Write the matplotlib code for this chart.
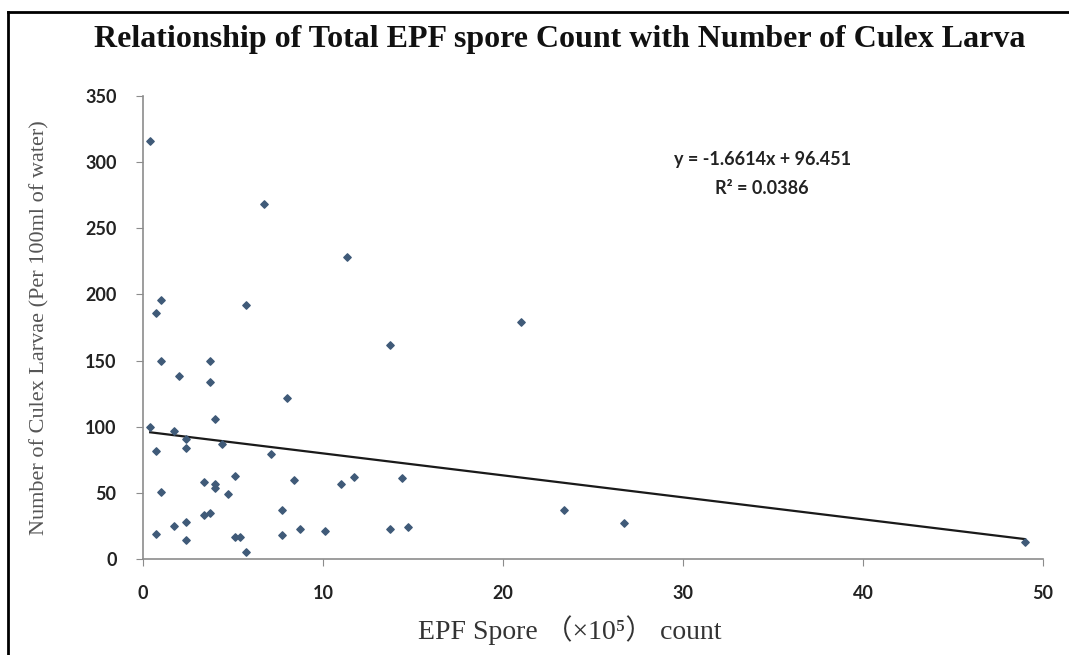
import matplotlib
matplotlib.use('Agg')
import matplotlib.pyplot as plt
from matplotlib.lines import Line2D

# EPF spore count (x10^5) and larvae per 100ml
spore_count = [0.4, 6.7, 11.35, 1.0, 0.7, 5.7, 13.7, 1.0, 3.7, 2.0,
               3.7, 8.0, 4.0, 0.4, 1.7, 2.4, 2.4, 0.7, 4.4, 7.1,
               5.1, 8.4, 11.7, 11.0, 14.4, 3.4, 4.0, 4.0, 4.7, 1.0,
               7.7, 3.4, 3.7, 2.4, 1.7, 0.7, 2.4, 5.1, 5.4, 5.7,
               7.7, 8.7, 10.1, 13.7, 14.7, 21.0, 23.4, 26.7, 49.0]
larvae = [316, 268, 228, 196, 186, 192, 162, 150, 150, 138,
          134, 122, 106, 100, 97, 91, 84, 82, 87, 79,
          63, 60, 62, 57, 61, 58, 57, 54, 49, 51,
          37, 33, 35, 28, 25, 19, 14, 17, 17, 5,
          18, 23, 21, 23, 24, 179, 37, 27, 13]

# linear trendline as reported on the chart
slope = -1.6614
intercept = 96.451
r_squared = 0.0386

x_ticks = [0, 10, 20, 30, 40, 50]
y_ticks = [0, 50, 100, 150, 200, 250, 300, 350]

W, H = 1069, 655
fig = plt.figure(figsize=(W / 100, H / 100), dpi=100)
ax = fig.add_axes([143 / W, 1 - 559 / H, 900 / W, 463 / H])

ax.scatter(spore_count, larvae, marker='D', s=14, color='#3f5a78', zorder=3)

x0, x1 = min(spore_count), max(spore_count)
ax.plot([x0, x1], [slope * x0 + intercept, slope * x1 + intercept],
        color='#1a1a1a', linewidth=1.6, zorder=2)

ax.set_xlim(0, 50)
ax.set_ylim(0, 350)
ax.set_xticks(x_ticks)
ax.set_yticks(y_ticks)

for side in ['top', 'right']:
    ax.spines[side].set_visible(False)
for side in ['left', 'bottom']:
    ax.spines[side].set_color('#8c8c8c')
    ax.spines[side].set_linewidth(1.2)

ax.tick_params(axis='both', direction='out', length=5, color='#8c8c8c')
ax.tick_params(axis='y', pad=14)
ax.tick_params(axis='x', pad=14)
for lab in ax.get_xticklabels() + ax.get_yticklabels():
    lab.set_fontfamily('Lato')
    lab.set_fontweight('bold')
    lab.set_fontsize(13)
    lab.set_color('#222222')

# regression text
ax.text(34.4, 302, 'y = %.4fx + %.3f' % (slope, intercept), ha='center', va='center',
        fontfamily='Lato', fontweight='bold', fontsize=13, color='#222222')
ax.text(34.4, 280, 'R² = %.4f' % r_squared, ha='center', va='center',
        fontfamily='Lato', fontweight='bold', fontsize=13, color='#222222')

fig.text(560 / W, 1 - 40 / H,
         'Relationship of Total EPF spore Count with Number of Culex Larva',
         ha='center', va='center', fontfamily='Liberation Serif',
         fontsize=23, fontweight='bold', color='#111111')

fig.text(40 / W, 1 - 328 / H, 'Number of Culex Larvae (Per 100ml of water)',
         ha='center', va='center', rotation=90, fontfamily='Liberation Serif',
         fontsize=16, color='#555555')

fig.text(570 / W, 1 - 630 / H, 'EPF Spore （×10⁵） count',
         ha='center', va='center',
         fontfamily=['Liberation Serif', 'Noto Sans CJK SC'],
         fontsize=20, color='#333333')

# outer frame (left and top edges visible in reference)
fig.lines.append(Line2D([8 / W, 8 / W], [0, 1 - 12 / H], transform=fig.transFigure,
                        color='black', linewidth=2))
fig.lines.append(Line2D([8 / W, 1], [1 - 12 / H, 1 - 12 / H], transform=fig.transFigure,
                        color='black', linewidth=2))

fig.savefig('out.png', dpi=100)
